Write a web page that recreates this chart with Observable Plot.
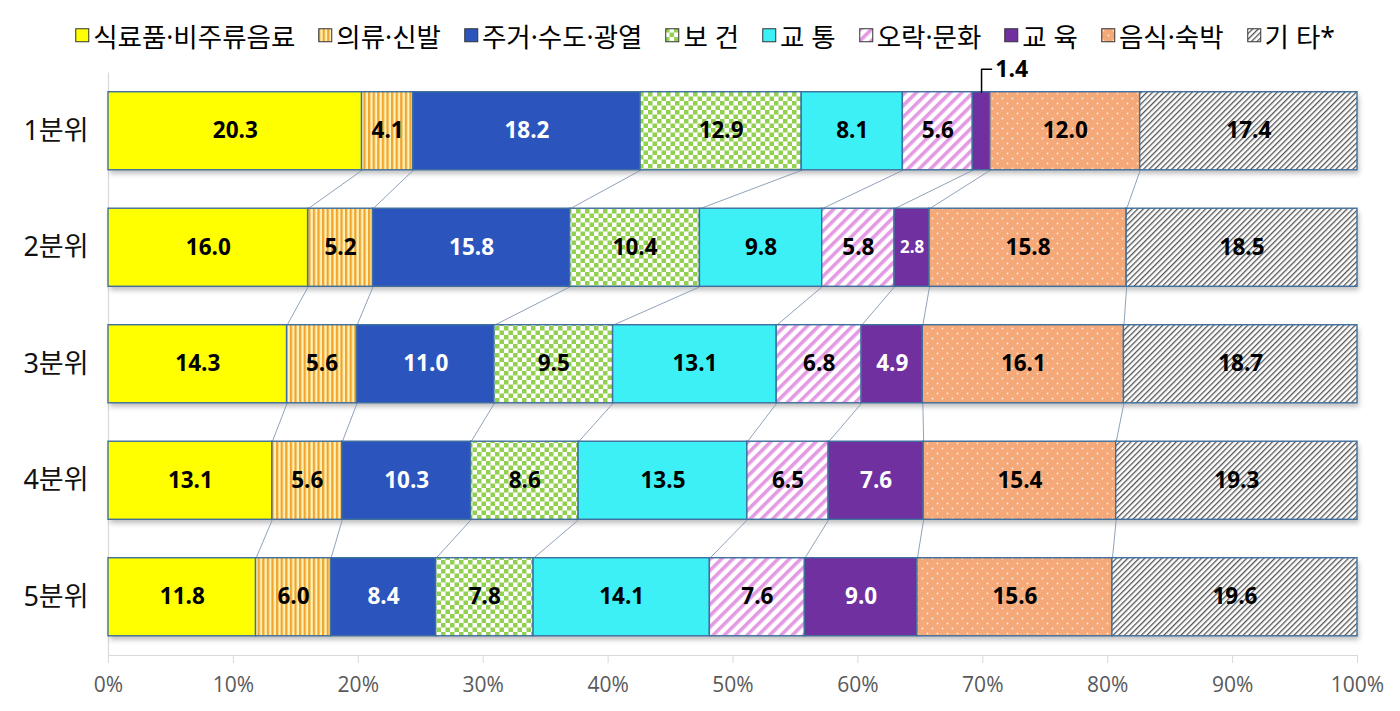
<!DOCTYPE html>
<html>
<head>
<meta charset="utf-8">
<script src="https://cdn.jsdelivr.net/npm/d3@7"></script>
<script src="https://cdn.jsdelivr.net/npm/@observablehq/plot@0.6"></script>
<style>
  body { margin: 0; background: #fff; font-family: "Noto Sans", "Noto Sans CJK KR", sans-serif; }
  #legend { height: 42px; padding-top: 14px; display: flex; justify-content: center; align-items: center; gap: 23px; font-size: 26.5px; color: #000; padding-left: 10px; font-family: "Noto Sans", "Noto Sans CJK KR", sans-serif; }
  .item { display: flex; align-items: center; gap: 3px; white-space: nowrap; }
  .item svg { display: block; }
</style>
</head>
<body>
<svg width="0" height="0" style="position:absolute">
  <defs>
    <pattern id="pCloth" width="4.6" height="10" patternUnits="userSpaceOnUse">
      <rect width="4.6" height="10" fill="#FFF2B8"/>
      <rect width="2.3" height="10" fill="#EFA52F"/>
    </pattern>
    <pattern id="pHealth" width="9" height="9" patternUnits="userSpaceOnUse">
      <rect width="9" height="9" fill="#ffffff"/>
      <rect width="4.5" height="4.5" fill="#92D050"/>
      <rect x="4.5" y="4.5" width="4.5" height="4.5" fill="#92D050"/>
    </pattern>
    <pattern id="pCulture" width="8" height="8" patternUnits="userSpaceOnUse" patternTransform="rotate(45)">
      <rect width="8" height="8" fill="#ffffff"/>
      <rect width="3.6" height="8" fill="#E39AE3"/>
    </pattern>
    <pattern id="pFood" width="10" height="10" patternUnits="userSpaceOnUse">
      <rect width="10" height="10" fill="#F5A978"/>
      <circle cx="2.5" cy="2.5" r="0.9" fill="#fff" opacity="0.75"/>
      <circle cx="7.5" cy="7.5" r="0.9" fill="#fff" opacity="0.75"/>
    </pattern>
    <pattern id="pOther" width="4" height="4" patternUnits="userSpaceOnUse" patternTransform="rotate(45)">
      <rect width="4" height="4" fill="#ffffff"/>
      <rect width="1.3" height="4" fill="#555555"/>
    </pattern>
  </defs>
</svg>
<div id="legend"></div>
<div id="chart"></div>
<script>
// ---- data ----
const quintiles = ["1분위", "2분위", "3분위", "4분위", "5분위"];
const categories = ["식료품·비주류음료", "의류·신발", "주거·수도·광열", "보 건", "교 통", "오락·문화", "교 육", "음식·숙박", "기 타*"];
const q1 = [20.3, 4.1, 18.2, 12.9, 8.1, 5.6, 1.4, 12.0, 17.4];
const q2 = [16.0, 5.2, 15.8, 10.4, 9.8, 5.8, 2.8, 15.8, 18.5];
const q3 = [14.3, 5.6, 11.0, 9.5, 13.1, 6.8, 4.9, 16.1, 18.7];
const q4 = [13.1, 5.6, 10.3, 8.6, 13.5, 6.5, 7.6, 15.4, 19.3];
const q5 = [11.8, 6.0, 8.4, 7.8, 14.1, 7.6, 9.0, 15.6, 19.6];
const xTicks = [0, 0.1, 0.2, 0.3, 0.4, 0.5, 0.6, 0.7, 0.8, 0.9, 1.0];

// ---- styles ----
const fills = ["#FFFF00", "url(#pCloth)", "#2B55BD", "url(#pHealth)", "#3CF0F5", "url(#pCulture)", "#7030A0", "url(#pFood)", "url(#pOther)"];
const whiteText = new Set([2, 6]);
const half = 0.335;

// ---- derived segments ----
const rows = [q1, q2, q3, q4, q5];
const segs = [];
const bounds = [];
rows.forEach((vals, i) => {
  const total = d3.sum(vals);
  let acc = 0;
  const b = [];
  vals.forEach((v, j) => {
    const x1 = acc / total;
    acc += v;
    const x2 = acc / total;
    segs.push({q: i, c: j, v, x1, x2, xm: (x1 + x2) / 2});
    b.push(x2);
  });
  bounds.push(b);
});
const links = [];
for (let i = 0; i < rows.length - 1; i++) {
  for (let j = 0; j < categories.length - 1; j++) {
    links.push({x1: bounds[i][j], y1: i + half, x2: bounds[i + 1][j], y2: i + 1 - half});
  }
}
const outside = segs.filter(d => d.q === 0 && d.c === 6);
const rise = 0.197;
const leader = outside.flatMap(d => [
  {x: d.xm, y: -half}, {x: d.xm, y: -half - rise}, {x: d.xm + 0.008, y: -half - rise}
]);

// ---- legend ----
const legend = document.getElementById("legend");
categories.forEach((c, j) => {
  const it = document.createElement("div");
  it.className = "item";
  it.innerHTML = `<svg width="15" height="15"><rect x="0.75" y="0.75" width="13" height="13" fill="${fills[j]}" stroke="#333" stroke-width="1"/></svg><span>${c}</span>`;
  legend.appendChild(it);
});

// ---- chart ----
const numFont = "'Open Sans', 'Noto Sans', sans-serif";
const chart = Plot.plot({
  width: 1400,
  height: 655,
  marginLeft: 108,
  marginRight: 43,
  marginTop: 16.5,
  marginBottom: 56,
  style: {background: "#fff", overflow: "visible"},
  x: {domain: [0, 1]},
  y: {domain: [-0.5, 4.5], reverse: true},
  color: {type: "identity"},
  marks: [
    Plot.ruleX([0], {stroke: "#d9d9d9", strokeWidth: 1.2}),
    Plot.ruleY([4.5], {stroke: "#d9d9d9", strokeWidth: 1.2}),
    Plot.axisX({ticks: xTicks, tickFormat: d3.format(".0%"), tickSize: 8, tickPadding: 14, stroke: "#d9d9d9", fill: "#595959", fontSize: 21, fontFamily: numFont, label: null}),
    Plot.axisY({ticks: [0, 1, 2, 3, 4], tickFormat: i => quintiles[i], tickSize: 0, tickPadding: 20, fontSize: 27, fill: "#111", fontFamily: "'Noto Sans', 'Noto Sans CJK KR', sans-serif", label: null}),
    Plot.rectX(rows.map((r, i) => ({i})), {x1: 0, x2: 1, y1: d => d.i - half, y2: d => d.i + half, dx: 2, dy: 4, fill: "#000", fillOpacity: 0.25, imageFilter: "blur(2.5px)"}),
    Plot.link(links, {x1: "x1", y1: "y1", x2: "x2", y2: "y2", stroke: "#8497B0", strokeWidth: 0.9}),
    Plot.rectX(segs, {x1: "x1", x2: "x2", y1: d => d.q - half, y2: d => d.q + half, fill: d => fills[d.c], stroke: "#3F6F9E", strokeWidth: 1.4}),
    Plot.text(segs, {x: "xm", y: "q", text: d => (whiteText.has(d.c) || (d.q === 0 && d.c === 6)) ? null : d.v.toFixed(1), fill: "#000", fontSize: 22.5, fontWeight: "bold", fontFamily: numFont}),
    Plot.text(segs, {x: "xm", y: "q", text: d => (whiteText.has(d.c) && !(d.q === 0 && d.c === 6)) ? d.v.toFixed(1) : null, fill: "#fff", fontSize: d => d.v < 3 ? 17 : 22.5, fontWeight: "bold", fontFamily: numFont}),
    Plot.line(leader, {x: "x", y: "y", stroke: "#000", strokeWidth: 1.5}),
    Plot.text(outside, {x: d => d.xm + 0.011, y: -half - rise, text: d => d.v.toFixed(1), textAnchor: "start", fill: "#000", fontSize: 23, fontWeight: "bold", fontFamily: numFont})
  ]
});
document.getElementById("chart").appendChild(chart);
</script>
</body>
</html>
